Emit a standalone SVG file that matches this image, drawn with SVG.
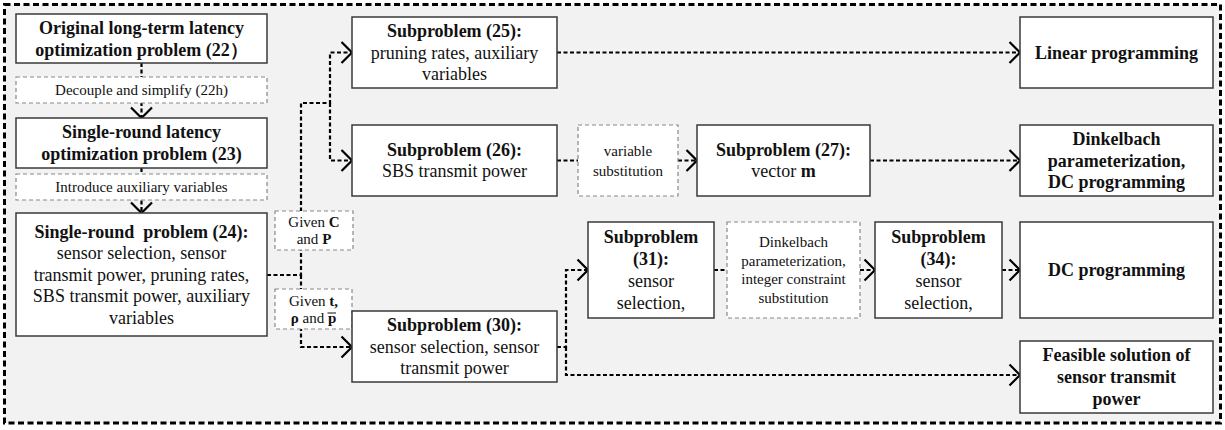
<svg xmlns="http://www.w3.org/2000/svg" width="1225" height="430" viewBox="0 0 1225 430">
<style>
text{font-family:"Liberation Serif","Times New Roman",serif;fill:#111;text-anchor:middle}
.t{font-size:18px;font-weight:bold}
.r{font-size:18px}
.s{font-size:15px}
.b{font-weight:bold}
.box{fill:#fff;stroke:#3a3a3a;stroke-width:1.5}
.lbl{fill:#fff;stroke:#888;stroke-width:1.2;stroke-dasharray:4 3}
.c{fill:none;stroke:#000;stroke-width:2.2;stroke-dasharray:4 2.5}
.ca{fill:none;stroke:#000;stroke-width:2.2;stroke-dasharray:4 2.5;marker-end:url(#ah)}
</style>
<defs>
<marker id="ah" markerUnits="userSpaceOnUse" markerWidth="16" markerHeight="26" refX="12" refY="12" orient="auto">
<path d="M1.5,1.5 L12,12 L1.5,22.5" fill="none" stroke="#000" stroke-width="2.2"/>
</marker>
</defs>
<rect x="4.5" y="4.5" width="1216" height="418.5" fill="#f2f2f2" stroke="#000" stroke-width="3" stroke-dasharray="6 3.5"/>
<g id="connectors">
<path class="ca" d="M141.5,63 V118"/>
<path class="ca" d="M141.5,168 V213"/>
<path class="ca" d="M267,275 H301 V103 H330 V52.5 H352"/>
<path class="ca" d="M330,103 V160.5 H352"/>
<path class="ca" d="M301,275 V347 H352"/>
<path class="ca" d="M557,52.5 H1020"/>
<path class="c" d="M557,160.5 H578"/>
<path class="ca" d="M678,160.5 H697"/>
<path class="ca" d="M870,160.5 H1020"/>
<path class="ca" d="M557,347 H566 V270 H588"/>
<path class="ca" d="M566,347 V375 H1020"/>
<path class="c" d="M714,270 H727"/>
<path class="ca" d="M860,270 H875"/>
<path class="ca" d="M1002,270 H1020"/>
</g>
<g id="n22"><rect class="box" x="16" y="14" width="251" height="49"/>
<text class="t" x="141.5" y="33.5">Original long-term latency</text>
<text class="t" x="141.5" y="55.5">optimization problem (22）</text></g>
<g id="l22h"><rect class="lbl" x="16" y="77" width="251" height="26"/>
<text class="s" x="141.5" y="95">Decouple and simplify (22h)</text></g>
<g id="n23"><rect class="box" x="16" y="118" width="251" height="50"/>
<text class="t" x="141.5" y="138">Single-round latency</text>
<text class="t" x="141.5" y="160">optimization problem (23)</text></g>
<g id="laux"><rect class="lbl" x="16" y="174" width="251" height="26"/>
<text class="s" x="141.5" y="192">Introduce auxiliary variables</text></g>
<g id="n24"><rect class="box" x="16" y="213" width="251" height="123"/>
<text class="t" x="141.5" y="237.5" xml:space="preserve">Single-round  problem (24):</text>
<text class="r" x="141.5" y="259">sensor selection, sensor</text>
<text class="r" x="141.5" y="280.5">transmit power, pruning rates,</text>
<text class="r" x="141.5" y="302">SBS transmit power, auxiliary</text>
<text class="r" x="141.5" y="323.5">variables</text></g>
<g id="lgivenC"><rect class="lbl" x="275" y="211" width="78" height="39"/>
<text class="s" x="314" y="227">Given <tspan class="b">C</tspan></text>
<text class="s" x="314" y="244">and <tspan class="b">P</tspan></text></g>
<g id="lgivenT"><rect class="lbl" x="275" y="289" width="77" height="40"/>
<text class="s" x="313.5" y="305.5">Given <tspan class="b">t,</tspan></text>
<text class="s" x="313.5" y="322.5"><tspan class="b">ρ</tspan> and <tspan class="b">p</tspan></text>
<line x1="327.5" y1="313" x2="336" y2="313" stroke="#111" stroke-width="1"/></g>
<g id="n25"><rect class="box" x="352" y="17" width="205" height="71"/>
<text class="t" x="454.5" y="37">Subproblem (25):</text>
<text class="r" x="454.5" y="58.5">pruning rates, auxiliary</text>
<text class="r" x="454.5" y="80">variables</text></g>
<g id="n26"><rect class="box" x="352" y="125" width="205" height="71"/>
<text class="t" x="454.5" y="156">Subproblem (26):</text>
<text class="r" x="454.5" y="177">SBS transmit power</text></g>
<g id="lvar"><rect class="lbl" x="578" y="125" width="100" height="71"/>
<text class="s" x="628" y="155.5">variable</text>
<text class="s" x="628" y="175.5">substitution</text></g>
<g id="n27"><rect class="box" x="697" y="125" width="173" height="71"/>
<text class="t" x="783.5" y="156">Subproblem (27):</text>
<text class="r" x="783.5" y="177">vector <tspan class="b">m</tspan></text></g>
<g id="nlp"><rect class="box" x="1020" y="17" width="193" height="71"/>
<text class="t" x="1116.5" y="58.5">Linear programming</text></g>
<g id="ndink"><rect class="box" x="1020" y="125" width="193" height="71"/>
<text class="t" x="1116.5" y="145">Dinkelbach</text>
<text class="t" x="1116.5" y="166.5">parameterization,</text>
<text class="t" x="1116.5" y="188">DC programming</text></g>
<g id="n30"><rect class="box" x="352" y="311" width="205" height="71"/>
<text class="t" x="454.5" y="331">Subproblem (30):</text>
<text class="r" x="454.5" y="352.5">sensor selection, sensor</text>
<text class="r" x="454.5" y="374">transmit power</text></g>
<g id="n31"><rect class="box" x="588" y="222" width="126" height="96"/>
<text class="t" x="651" y="243">Subproblem</text>
<text class="t" x="651" y="265">(31):</text>
<text class="r" x="651" y="287">sensor</text>
<text class="r" x="651" y="309">selection,</text></g>
<g id="ldink"><rect class="lbl" x="727" y="222" width="133" height="96"/>
<text class="s" x="793.5" y="247">Dinkelbach</text>
<text class="s" x="793.5" y="265.5">parameterization,</text>
<text class="s" x="793.5" y="284">integer constraint</text>
<text class="s" x="793.5" y="302.5">substitution</text></g>
<g id="n34"><rect class="box" x="875" y="222" width="127" height="96"/>
<text class="t" x="938.5" y="243">Subproblem</text>
<text class="t" x="938.5" y="265">(34):</text>
<text class="r" x="938.5" y="287">sensor</text>
<text class="r" x="938.5" y="309">selection,</text></g>
<g id="ndc"><rect class="box" x="1020" y="222" width="193" height="96"/>
<text class="t" x="1116.5" y="276">DC programming</text></g>
<g id="nfeas"><rect class="box" x="1020" y="341" width="193" height="72"/>
<text class="t" x="1116.5" y="361">Feasible solution of</text>
<text class="t" x="1116.5" y="383">sensor transmit</text>
<text class="t" x="1116.5" y="405">power</text></g>
</svg>
